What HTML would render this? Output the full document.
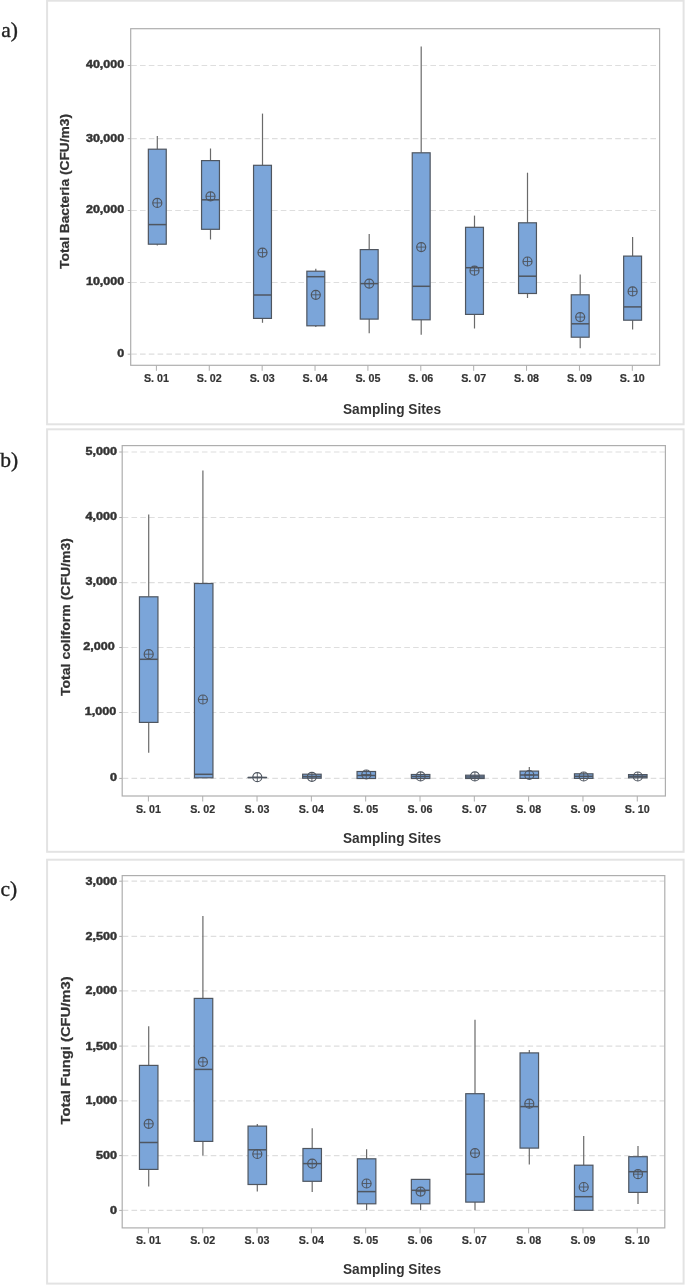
<!DOCTYPE html><html><head><meta charset="utf-8"><style>html,body{margin:0;padding:0;background:#fff;}svg{display:block;filter:blur(0.35px)}.s{font-family:"Liberation Sans",sans-serif}.r{font-family:"Liberation Serif",serif}</style></head><body>
<svg width="685" height="1285" viewBox="0 0 685 1285">
<rect x="0" y="0" width="685" height="1285" fill="#fff"/>
<rect x="47.1" y="0.7" width="636.5" height="423.6" fill="#fff" stroke="#e3e3e3" stroke-width="2"/>
<text x="1.3" y="36.6" class="r" font-size="21.5" fill="#222" stroke="#222" stroke-width="0.35">a)</text>
<line x1="131.2" y1="354.2" x2="659.1" y2="354.2" stroke="#dedede" stroke-width="1.2" stroke-dasharray="5.6 3.2"/>
<line x1="127.7" y1="354.2" x2="130.7" y2="354.2" stroke="#aeaeae" stroke-width="1"/>
<text x="124.2" y="357" text-anchor="end" class="s" font-weight="bold" font-size="10.6" fill="#333333" stroke="#333333" stroke-width="0.45" textLength="6.95" lengthAdjust="spacingAndGlyphs">0</text>
<line x1="131.2" y1="282.5" x2="659.1" y2="282.5" stroke="#dedede" stroke-width="1.2" stroke-dasharray="5.6 3.2"/>
<line x1="127.7" y1="282.5" x2="130.7" y2="282.5" stroke="#aeaeae" stroke-width="1"/>
<text x="124.2" y="285.3" text-anchor="end" class="s" font-weight="bold" font-size="10.6" fill="#333333" stroke="#333333" stroke-width="0.45" textLength="38.23" lengthAdjust="spacingAndGlyphs">10,000</text>
<line x1="131.2" y1="210.5" x2="659.1" y2="210.5" stroke="#dedede" stroke-width="1.2" stroke-dasharray="5.6 3.2"/>
<line x1="127.7" y1="210.5" x2="130.7" y2="210.5" stroke="#aeaeae" stroke-width="1"/>
<text x="124.2" y="213.3" text-anchor="end" class="s" font-weight="bold" font-size="10.6" fill="#333333" stroke="#333333" stroke-width="0.45" textLength="38.23" lengthAdjust="spacingAndGlyphs">20,000</text>
<line x1="131.2" y1="138.7" x2="659.1" y2="138.7" stroke="#dedede" stroke-width="1.2" stroke-dasharray="5.6 3.2"/>
<line x1="127.7" y1="138.7" x2="130.7" y2="138.7" stroke="#aeaeae" stroke-width="1"/>
<text x="124.2" y="141.5" text-anchor="end" class="s" font-weight="bold" font-size="10.6" fill="#333333" stroke="#333333" stroke-width="0.45" textLength="38.23" lengthAdjust="spacingAndGlyphs">30,000</text>
<line x1="131.2" y1="65.5" x2="659.1" y2="65.5" stroke="#dedede" stroke-width="1.2" stroke-dasharray="5.6 3.2"/>
<line x1="127.7" y1="65.5" x2="130.7" y2="65.5" stroke="#aeaeae" stroke-width="1"/>
<text x="124.2" y="68.3" text-anchor="end" class="s" font-weight="bold" font-size="10.6" fill="#333333" stroke="#333333" stroke-width="0.45" textLength="38.23" lengthAdjust="spacingAndGlyphs">40,000</text>
<rect x="130.7" y="28.7" width="528.9" height="336.6" fill="none" stroke="#aeaeae" stroke-width="1.2"/>
<line x1="156.4" y1="365.3" x2="156.4" y2="370.8" stroke="#aeaeae" stroke-width="1"/>
<text x="156.4" y="382.1" text-anchor="middle" class="s" font-weight="bold" font-size="11.7" fill="#333333" stroke="#333333" stroke-width="0.2" textLength="25" lengthAdjust="spacingAndGlyphs">S. 01</text>
<line x1="209.28" y1="365.3" x2="209.28" y2="370.8" stroke="#aeaeae" stroke-width="1"/>
<text x="209.28" y="382.1" text-anchor="middle" class="s" font-weight="bold" font-size="11.7" fill="#333333" stroke="#333333" stroke-width="0.2" textLength="25" lengthAdjust="spacingAndGlyphs">S. 02</text>
<line x1="262.16" y1="365.3" x2="262.16" y2="370.8" stroke="#aeaeae" stroke-width="1"/>
<text x="262.16" y="382.1" text-anchor="middle" class="s" font-weight="bold" font-size="11.7" fill="#333333" stroke="#333333" stroke-width="0.2" textLength="25" lengthAdjust="spacingAndGlyphs">S. 03</text>
<line x1="315.04" y1="365.3" x2="315.04" y2="370.8" stroke="#aeaeae" stroke-width="1"/>
<text x="315.04" y="382.1" text-anchor="middle" class="s" font-weight="bold" font-size="11.7" fill="#333333" stroke="#333333" stroke-width="0.2" textLength="25" lengthAdjust="spacingAndGlyphs">S. 04</text>
<line x1="367.92" y1="365.3" x2="367.92" y2="370.8" stroke="#aeaeae" stroke-width="1"/>
<text x="367.92" y="382.1" text-anchor="middle" class="s" font-weight="bold" font-size="11.7" fill="#333333" stroke="#333333" stroke-width="0.2" textLength="25" lengthAdjust="spacingAndGlyphs">S. 05</text>
<line x1="420.8" y1="365.3" x2="420.8" y2="370.8" stroke="#aeaeae" stroke-width="1"/>
<text x="420.8" y="382.1" text-anchor="middle" class="s" font-weight="bold" font-size="11.7" fill="#333333" stroke="#333333" stroke-width="0.2" textLength="25" lengthAdjust="spacingAndGlyphs">S. 06</text>
<line x1="473.68" y1="365.3" x2="473.68" y2="370.8" stroke="#aeaeae" stroke-width="1"/>
<text x="473.68" y="382.1" text-anchor="middle" class="s" font-weight="bold" font-size="11.7" fill="#333333" stroke="#333333" stroke-width="0.2" textLength="25" lengthAdjust="spacingAndGlyphs">S. 07</text>
<line x1="526.56" y1="365.3" x2="526.56" y2="370.8" stroke="#aeaeae" stroke-width="1"/>
<text x="526.56" y="382.1" text-anchor="middle" class="s" font-weight="bold" font-size="11.7" fill="#333333" stroke="#333333" stroke-width="0.2" textLength="25" lengthAdjust="spacingAndGlyphs">S. 08</text>
<line x1="579.44" y1="365.3" x2="579.44" y2="370.8" stroke="#aeaeae" stroke-width="1"/>
<text x="579.44" y="382.1" text-anchor="middle" class="s" font-weight="bold" font-size="11.7" fill="#333333" stroke="#333333" stroke-width="0.2" textLength="25" lengthAdjust="spacingAndGlyphs">S. 09</text>
<line x1="632.32" y1="365.3" x2="632.32" y2="370.8" stroke="#aeaeae" stroke-width="1"/>
<text x="632.32" y="382.1" text-anchor="middle" class="s" font-weight="bold" font-size="11.7" fill="#333333" stroke="#333333" stroke-width="0.2" textLength="25" lengthAdjust="spacingAndGlyphs">S. 10</text>
<text x="392" y="413.7" text-anchor="middle" class="s" font-weight="bold" font-size="13.8" fill="#333333" textLength="98" lengthAdjust="spacingAndGlyphs">Sampling Sites</text>
<text transform="translate(69,191.4) rotate(-90)" text-anchor="middle" class="s" font-weight="bold" font-size="13" fill="#333333" stroke="#333333" stroke-width="0.25" textLength="155" lengthAdjust="spacingAndGlyphs">Total Bacteria (CFU/m3)</text>
<line x1="157.3" y1="136" x2="157.3" y2="149.2" stroke="#6a6a6a" stroke-width="1.2"/>
<line x1="157.3" y1="244.2" x2="157.3" y2="245.6" stroke="#6a6a6a" stroke-width="1.2"/>
<rect x="148.35" y="149.2" width="17.9" height="95" fill="#7ba5d9" stroke="#4f5660" stroke-width="1.2"/>
<line x1="148.35" y1="224.6" x2="166.25" y2="224.6" stroke="#4f5660" stroke-width="1.5"/>
<circle cx="157.3" cy="202.9" r="4.5" fill="none" stroke="#4f5660" stroke-width="1.2"/>
<path d="M152.8 202.9H161.8M157.3 198.4V207.4" stroke="#4f5660" stroke-width="0.9" fill="none"/>
<line x1="210.5" y1="148.5" x2="210.5" y2="160.6" stroke="#6a6a6a" stroke-width="1.2"/>
<line x1="210.5" y1="229.3" x2="210.5" y2="239.5" stroke="#6a6a6a" stroke-width="1.2"/>
<rect x="201.55" y="160.6" width="17.9" height="68.7" fill="#7ba5d9" stroke="#4f5660" stroke-width="1.2"/>
<line x1="201.55" y1="199.8" x2="219.45" y2="199.8" stroke="#4f5660" stroke-width="1.5"/>
<circle cx="210.5" cy="196.3" r="4.5" fill="none" stroke="#4f5660" stroke-width="1.2"/>
<path d="M206 196.3H215M210.5 191.8V200.8" stroke="#4f5660" stroke-width="0.9" fill="none"/>
<line x1="262.5" y1="113.6" x2="262.5" y2="165.3" stroke="#6a6a6a" stroke-width="1.2"/>
<line x1="262.5" y1="318.4" x2="262.5" y2="322.8" stroke="#6a6a6a" stroke-width="1.2"/>
<rect x="253.55" y="165.3" width="17.9" height="153.1" fill="#7ba5d9" stroke="#4f5660" stroke-width="1.2"/>
<line x1="253.55" y1="295" x2="271.45" y2="295" stroke="#4f5660" stroke-width="1.5"/>
<circle cx="262.5" cy="252.6" r="4.5" fill="none" stroke="#4f5660" stroke-width="1.2"/>
<path d="M258 252.6H267M262.5 248.1V257.1" stroke="#4f5660" stroke-width="0.9" fill="none"/>
<line x1="315.8" y1="268.7" x2="315.8" y2="271.2" stroke="#6a6a6a" stroke-width="1.2"/>
<line x1="315.8" y1="325.8" x2="315.8" y2="327" stroke="#6a6a6a" stroke-width="1.2"/>
<rect x="306.85" y="271.2" width="17.9" height="54.6" fill="#7ba5d9" stroke="#4f5660" stroke-width="1.2"/>
<line x1="306.85" y1="276.7" x2="324.75" y2="276.7" stroke="#4f5660" stroke-width="1.5"/>
<circle cx="315.8" cy="294.8" r="4.5" fill="none" stroke="#4f5660" stroke-width="1.2"/>
<path d="M311.3 294.8H320.3M315.8 290.3V299.3" stroke="#4f5660" stroke-width="0.9" fill="none"/>
<line x1="369.2" y1="234" x2="369.2" y2="249.6" stroke="#6a6a6a" stroke-width="1.2"/>
<line x1="369.2" y1="319.1" x2="369.2" y2="333.3" stroke="#6a6a6a" stroke-width="1.2"/>
<rect x="360.25" y="249.6" width="17.9" height="69.5" fill="#7ba5d9" stroke="#4f5660" stroke-width="1.2"/>
<line x1="360.25" y1="283.6" x2="378.15" y2="283.6" stroke="#4f5660" stroke-width="1.5"/>
<circle cx="369.2" cy="283.6" r="4.5" fill="none" stroke="#4f5660" stroke-width="1.2"/>
<path d="M364.7 283.6H373.7M369.2 279.1V288.1" stroke="#4f5660" stroke-width="0.9" fill="none"/>
<line x1="421.2" y1="46.6" x2="421.2" y2="152.8" stroke="#6a6a6a" stroke-width="1.2"/>
<line x1="421.2" y1="319.8" x2="421.2" y2="334.7" stroke="#6a6a6a" stroke-width="1.2"/>
<rect x="412.25" y="152.8" width="17.9" height="167" fill="#7ba5d9" stroke="#4f5660" stroke-width="1.2"/>
<line x1="412.25" y1="286.3" x2="430.15" y2="286.3" stroke="#4f5660" stroke-width="1.5"/>
<circle cx="421.2" cy="247.1" r="4.5" fill="none" stroke="#4f5660" stroke-width="1.2"/>
<path d="M416.7 247.1H425.7M421.2 242.6V251.6" stroke="#4f5660" stroke-width="0.9" fill="none"/>
<line x1="474.5" y1="215.6" x2="474.5" y2="227.3" stroke="#6a6a6a" stroke-width="1.2"/>
<line x1="474.5" y1="314.4" x2="474.5" y2="328.5" stroke="#6a6a6a" stroke-width="1.2"/>
<rect x="465.55" y="227.3" width="17.9" height="87.1" fill="#7ba5d9" stroke="#4f5660" stroke-width="1.2"/>
<line x1="465.55" y1="267.7" x2="483.45" y2="267.7" stroke="#4f5660" stroke-width="1.5"/>
<circle cx="474.5" cy="270.7" r="4.5" fill="none" stroke="#4f5660" stroke-width="1.2"/>
<path d="M470 270.7H479M474.5 266.2V275.2" stroke="#4f5660" stroke-width="0.9" fill="none"/>
<line x1="527.5" y1="172.7" x2="527.5" y2="222.8" stroke="#6a6a6a" stroke-width="1.2"/>
<line x1="527.5" y1="293.5" x2="527.5" y2="298" stroke="#6a6a6a" stroke-width="1.2"/>
<rect x="518.55" y="222.8" width="17.9" height="70.7" fill="#7ba5d9" stroke="#4f5660" stroke-width="1.2"/>
<line x1="518.55" y1="276.2" x2="536.45" y2="276.2" stroke="#4f5660" stroke-width="1.5"/>
<circle cx="527.5" cy="261.5" r="4.5" fill="none" stroke="#4f5660" stroke-width="1.2"/>
<path d="M523 261.5H532M527.5 257V266" stroke="#4f5660" stroke-width="0.9" fill="none"/>
<line x1="580.2" y1="274.5" x2="580.2" y2="294.8" stroke="#6a6a6a" stroke-width="1.2"/>
<line x1="580.2" y1="337.2" x2="580.2" y2="348.2" stroke="#6a6a6a" stroke-width="1.2"/>
<rect x="571.25" y="294.8" width="17.9" height="42.4" fill="#7ba5d9" stroke="#4f5660" stroke-width="1.2"/>
<line x1="571.25" y1="323.8" x2="589.15" y2="323.8" stroke="#4f5660" stroke-width="1.5"/>
<circle cx="580.2" cy="317.1" r="4.5" fill="none" stroke="#4f5660" stroke-width="1.2"/>
<path d="M575.7 317.1H584.7M580.2 312.6V321.6" stroke="#4f5660" stroke-width="0.9" fill="none"/>
<line x1="632.6" y1="237" x2="632.6" y2="256.1" stroke="#6a6a6a" stroke-width="1.2"/>
<line x1="632.6" y1="320.2" x2="632.6" y2="329.6" stroke="#6a6a6a" stroke-width="1.2"/>
<rect x="623.65" y="256.1" width="17.9" height="64.1" fill="#7ba5d9" stroke="#4f5660" stroke-width="1.2"/>
<line x1="623.65" y1="306.9" x2="641.55" y2="306.9" stroke="#4f5660" stroke-width="1.5"/>
<circle cx="632.6" cy="291.4" r="4.5" fill="none" stroke="#4f5660" stroke-width="1.2"/>
<path d="M628.1 291.4H637.1M632.6 286.9V295.9" stroke="#4f5660" stroke-width="0.9" fill="none"/>
<rect x="47.1" y="429.3" width="636.5" height="422.5" fill="#fff" stroke="#e3e3e3" stroke-width="2"/>
<text x="0.3" y="466.7" class="r" font-size="21.5" fill="#222" stroke="#222" stroke-width="0.35">b)</text>
<line x1="122.7" y1="778.4" x2="664.9" y2="778.4" stroke="#dedede" stroke-width="1.2" stroke-dasharray="5.6 3.2"/>
<line x1="119.2" y1="778.4" x2="122.2" y2="778.4" stroke="#aeaeae" stroke-width="1"/>
<text x="117" y="781" text-anchor="end" class="s" font-weight="bold" font-size="10.6" fill="#333333" stroke="#333333" stroke-width="0.45" textLength="7.01" lengthAdjust="spacingAndGlyphs">0</text>
<line x1="122.7" y1="712.5" x2="664.9" y2="712.5" stroke="#dedede" stroke-width="1.2" stroke-dasharray="5.6 3.2"/>
<line x1="119.2" y1="712.5" x2="122.2" y2="712.5" stroke="#aeaeae" stroke-width="1"/>
<text x="116.3" y="715.1" text-anchor="end" class="s" font-weight="bold" font-size="10.6" fill="#333333" stroke="#333333" stroke-width="0.45" textLength="31.53" lengthAdjust="spacingAndGlyphs">1,000</text>
<line x1="122.7" y1="647.5" x2="664.9" y2="647.5" stroke="#dedede" stroke-width="1.2" stroke-dasharray="5.6 3.2"/>
<line x1="119.2" y1="647.5" x2="122.2" y2="647.5" stroke="#aeaeae" stroke-width="1"/>
<text x="114.8" y="650.1" text-anchor="end" class="s" font-weight="bold" font-size="10.6" fill="#333333" stroke="#333333" stroke-width="0.45" textLength="31.53" lengthAdjust="spacingAndGlyphs">2,000</text>
<line x1="122.7" y1="582.6" x2="664.9" y2="582.6" stroke="#dedede" stroke-width="1.2" stroke-dasharray="5.6 3.2"/>
<line x1="119.2" y1="582.6" x2="122.2" y2="582.6" stroke="#aeaeae" stroke-width="1"/>
<text x="117" y="585.2" text-anchor="end" class="s" font-weight="bold" font-size="10.6" fill="#333333" stroke="#333333" stroke-width="0.45" textLength="31.53" lengthAdjust="spacingAndGlyphs">3,000</text>
<line x1="122.7" y1="517.5" x2="664.9" y2="517.5" stroke="#dedede" stroke-width="1.2" stroke-dasharray="5.6 3.2"/>
<line x1="119.2" y1="517.5" x2="122.2" y2="517.5" stroke="#aeaeae" stroke-width="1"/>
<text x="117" y="520.1" text-anchor="end" class="s" font-weight="bold" font-size="10.6" fill="#333333" stroke="#333333" stroke-width="0.45" textLength="31.53" lengthAdjust="spacingAndGlyphs">4,000</text>
<line x1="122.7" y1="452" x2="664.9" y2="452" stroke="#dedede" stroke-width="1.2" stroke-dasharray="5.6 3.2"/>
<line x1="119.2" y1="452" x2="122.2" y2="452" stroke="#aeaeae" stroke-width="1"/>
<text x="117" y="454.6" text-anchor="end" class="s" font-weight="bold" font-size="10.6" fill="#333333" stroke="#333333" stroke-width="0.45" textLength="31.53" lengthAdjust="spacingAndGlyphs">5,000</text>
<rect x="122.2" y="445.6" width="543.2" height="350.4" fill="none" stroke="#aeaeae" stroke-width="1.2"/>
<line x1="148.4" y1="796" x2="148.4" y2="801.5" stroke="#aeaeae" stroke-width="1"/>
<text x="148.4" y="812.6" text-anchor="middle" class="s" font-weight="bold" font-size="11.7" fill="#333333" stroke="#333333" stroke-width="0.2" textLength="25" lengthAdjust="spacingAndGlyphs">S. 01</text>
<line x1="202.72" y1="796" x2="202.72" y2="801.5" stroke="#aeaeae" stroke-width="1"/>
<text x="202.72" y="812.6" text-anchor="middle" class="s" font-weight="bold" font-size="11.7" fill="#333333" stroke="#333333" stroke-width="0.2" textLength="25" lengthAdjust="spacingAndGlyphs">S. 02</text>
<line x1="257.04" y1="796" x2="257.04" y2="801.5" stroke="#aeaeae" stroke-width="1"/>
<text x="257.04" y="812.6" text-anchor="middle" class="s" font-weight="bold" font-size="11.7" fill="#333333" stroke="#333333" stroke-width="0.2" textLength="25" lengthAdjust="spacingAndGlyphs">S. 03</text>
<line x1="311.36" y1="796" x2="311.36" y2="801.5" stroke="#aeaeae" stroke-width="1"/>
<text x="311.36" y="812.6" text-anchor="middle" class="s" font-weight="bold" font-size="11.7" fill="#333333" stroke="#333333" stroke-width="0.2" textLength="25" lengthAdjust="spacingAndGlyphs">S. 04</text>
<line x1="365.68" y1="796" x2="365.68" y2="801.5" stroke="#aeaeae" stroke-width="1"/>
<text x="365.68" y="812.6" text-anchor="middle" class="s" font-weight="bold" font-size="11.7" fill="#333333" stroke="#333333" stroke-width="0.2" textLength="25" lengthAdjust="spacingAndGlyphs">S. 05</text>
<line x1="420" y1="796" x2="420" y2="801.5" stroke="#aeaeae" stroke-width="1"/>
<text x="420" y="812.6" text-anchor="middle" class="s" font-weight="bold" font-size="11.7" fill="#333333" stroke="#333333" stroke-width="0.2" textLength="25" lengthAdjust="spacingAndGlyphs">S. 06</text>
<line x1="474.32" y1="796" x2="474.32" y2="801.5" stroke="#aeaeae" stroke-width="1"/>
<text x="474.32" y="812.6" text-anchor="middle" class="s" font-weight="bold" font-size="11.7" fill="#333333" stroke="#333333" stroke-width="0.2" textLength="25" lengthAdjust="spacingAndGlyphs">S. 07</text>
<line x1="528.64" y1="796" x2="528.64" y2="801.5" stroke="#aeaeae" stroke-width="1"/>
<text x="528.64" y="812.6" text-anchor="middle" class="s" font-weight="bold" font-size="11.7" fill="#333333" stroke="#333333" stroke-width="0.2" textLength="25" lengthAdjust="spacingAndGlyphs">S. 08</text>
<line x1="582.96" y1="796" x2="582.96" y2="801.5" stroke="#aeaeae" stroke-width="1"/>
<text x="582.96" y="812.6" text-anchor="middle" class="s" font-weight="bold" font-size="11.7" fill="#333333" stroke="#333333" stroke-width="0.2" textLength="25" lengthAdjust="spacingAndGlyphs">S. 09</text>
<line x1="637.28" y1="796" x2="637.28" y2="801.5" stroke="#aeaeae" stroke-width="1"/>
<text x="637.28" y="812.6" text-anchor="middle" class="s" font-weight="bold" font-size="11.7" fill="#333333" stroke="#333333" stroke-width="0.2" textLength="25" lengthAdjust="spacingAndGlyphs">S. 10</text>
<text x="392" y="843" text-anchor="middle" class="s" font-weight="bold" font-size="13.8" fill="#333333" textLength="98" lengthAdjust="spacingAndGlyphs">Sampling Sites</text>
<text transform="translate(69.8,617) rotate(-90)" text-anchor="middle" class="s" font-weight="bold" font-size="13" fill="#333333" stroke="#333333" stroke-width="0.25" textLength="158" lengthAdjust="spacingAndGlyphs">Total coliform (CFU/m3)</text>
<line x1="148.7" y1="514.6" x2="148.7" y2="596.8" stroke="#6a6a6a" stroke-width="1.2"/>
<line x1="148.7" y1="722.4" x2="148.7" y2="752.8" stroke="#6a6a6a" stroke-width="1.2"/>
<rect x="139.45" y="596.8" width="18.5" height="125.6" fill="#7ba5d9" stroke="#4f5660" stroke-width="1.2"/>
<line x1="139.45" y1="659.3" x2="157.95" y2="659.3" stroke="#4f5660" stroke-width="1.5"/>
<circle cx="148.7" cy="654.2" r="4.5" fill="none" stroke="#4f5660" stroke-width="1.2"/>
<path d="M144.2 654.2H153.2M148.7 649.7V658.7" stroke="#4f5660" stroke-width="0.9" fill="none"/>
<line x1="202.9" y1="470.4" x2="202.9" y2="583.5" stroke="#6a6a6a" stroke-width="1.2"/>
<rect x="194.45" y="583.5" width="18.5" height="194.3" fill="#7ba5d9" stroke="#4f5660" stroke-width="1.2"/>
<line x1="194.45" y1="774.3" x2="212.95" y2="774.3" stroke="#4f5660" stroke-width="1.5"/>
<circle cx="202.9" cy="699.5" r="4.5" fill="none" stroke="#4f5660" stroke-width="1.2"/>
<path d="M198.4 699.5H207.4M202.9 695V704" stroke="#4f5660" stroke-width="0.9" fill="none"/>
<rect x="248.05" y="777.5" width="18.5" height="0.01" fill="#7ba5d9" stroke="#4f5660" stroke-width="1.2"/>
<line x1="248.05" y1="777.5" x2="266.55" y2="777.5" stroke="#4f5660" stroke-width="1.5"/>
<circle cx="257.3" cy="777.2" r="4.5" fill="none" stroke="#4f5660" stroke-width="1.2"/>
<path d="M252.8 777.2H261.8M257.3 772.7V781.7" stroke="#4f5660" stroke-width="0.9" fill="none"/>
<rect x="302.65" y="774.2" width="18.5" height="4" fill="#7ba5d9" stroke="#4f5660" stroke-width="1.2"/>
<line x1="302.65" y1="776.5" x2="321.15" y2="776.5" stroke="#4f5660" stroke-width="1.5"/>
<circle cx="311.9" cy="776.8" r="4.5" fill="none" stroke="#4f5660" stroke-width="1.2"/>
<path d="M307.4 776.8H316.4M311.9 772.3V781.3" stroke="#4f5660" stroke-width="0.9" fill="none"/>
<rect x="357.05" y="771.5" width="18.5" height="7" fill="#7ba5d9" stroke="#4f5660" stroke-width="1.2"/>
<line x1="357.05" y1="775.5" x2="375.55" y2="775.5" stroke="#4f5660" stroke-width="1.5"/>
<circle cx="366.3" cy="774.5" r="4.5" fill="none" stroke="#4f5660" stroke-width="1.2"/>
<path d="M361.8 774.5H370.8M366.3 770V779" stroke="#4f5660" stroke-width="0.9" fill="none"/>
<rect x="411.35" y="774.5" width="18.5" height="4" fill="#7ba5d9" stroke="#4f5660" stroke-width="1.2"/>
<line x1="411.35" y1="776.5" x2="429.85" y2="776.5" stroke="#4f5660" stroke-width="1.5"/>
<circle cx="420.6" cy="776.4" r="4.5" fill="none" stroke="#4f5660" stroke-width="1.2"/>
<path d="M416.1 776.4H425.1M420.6 771.9V780.9" stroke="#4f5660" stroke-width="0.9" fill="none"/>
<rect x="465.65" y="775.2" width="18.5" height="3.3" fill="#7ba5d9" stroke="#4f5660" stroke-width="1.2"/>
<line x1="465.65" y1="777" x2="484.15" y2="777" stroke="#4f5660" stroke-width="1.5"/>
<circle cx="474.9" cy="776.4" r="4.5" fill="none" stroke="#4f5660" stroke-width="1.2"/>
<path d="M470.4 776.4H479.4M474.9 771.9V780.9" stroke="#4f5660" stroke-width="0.9" fill="none"/>
<line x1="529.3" y1="767" x2="529.3" y2="771.1" stroke="#6a6a6a" stroke-width="1.2"/>
<rect x="520.05" y="771.1" width="18.5" height="7.3" fill="#7ba5d9" stroke="#4f5660" stroke-width="1.2"/>
<line x1="520.05" y1="775" x2="538.55" y2="775" stroke="#4f5660" stroke-width="1.5"/>
<circle cx="529.3" cy="775" r="4.5" fill="none" stroke="#4f5660" stroke-width="1.2"/>
<path d="M524.8 775H533.8M529.3 770.5V779.5" stroke="#4f5660" stroke-width="0.9" fill="none"/>
<rect x="574.45" y="773.8" width="18.5" height="4.6" fill="#7ba5d9" stroke="#4f5660" stroke-width="1.2"/>
<line x1="574.45" y1="776.3" x2="592.95" y2="776.3" stroke="#4f5660" stroke-width="1.5"/>
<circle cx="583.7" cy="776.5" r="4.5" fill="none" stroke="#4f5660" stroke-width="1.2"/>
<path d="M579.2 776.5H588.2M583.7 772V781" stroke="#4f5660" stroke-width="0.9" fill="none"/>
<rect x="628.55" y="774.6" width="18.5" height="3.2" fill="#7ba5d9" stroke="#4f5660" stroke-width="1.2"/>
<line x1="628.55" y1="776.3" x2="647.05" y2="776.3" stroke="#4f5660" stroke-width="1.5"/>
<circle cx="637.8" cy="776.5" r="4.5" fill="none" stroke="#4f5660" stroke-width="1.2"/>
<path d="M633.3 776.5H642.3M637.8 772V781" stroke="#4f5660" stroke-width="0.9" fill="none"/>
<rect x="47.1" y="859.7" width="636.5" height="423.9" fill="#fff" stroke="#e3e3e3" stroke-width="2"/>
<text x="0.5" y="896.2" class="r" font-size="21.5" fill="#222" stroke="#222" stroke-width="0.35">c)</text>
<line x1="122.7" y1="1210.4" x2="664.3" y2="1210.4" stroke="#dedede" stroke-width="1.2" stroke-dasharray="5.6 3.2"/>
<line x1="119.2" y1="1210.4" x2="122.2" y2="1210.4" stroke="#aeaeae" stroke-width="1"/>
<text x="117" y="1213.8" text-anchor="end" class="s" font-weight="bold" font-size="10.6" fill="#333333" stroke="#333333" stroke-width="0.45" textLength="7.01" lengthAdjust="spacingAndGlyphs">0</text>
<line x1="122.7" y1="1155.6" x2="664.3" y2="1155.6" stroke="#dedede" stroke-width="1.2" stroke-dasharray="5.6 3.2"/>
<line x1="119.2" y1="1155.6" x2="122.2" y2="1155.6" stroke="#aeaeae" stroke-width="1"/>
<text x="117" y="1159" text-anchor="end" class="s" font-weight="bold" font-size="10.6" fill="#333333" stroke="#333333" stroke-width="0.45" textLength="21.02" lengthAdjust="spacingAndGlyphs">500</text>
<line x1="122.7" y1="1100.8" x2="664.3" y2="1100.8" stroke="#dedede" stroke-width="1.2" stroke-dasharray="5.6 3.2"/>
<line x1="119.2" y1="1100.8" x2="122.2" y2="1100.8" stroke="#aeaeae" stroke-width="1"/>
<text x="117" y="1104.2" text-anchor="end" class="s" font-weight="bold" font-size="10.6" fill="#333333" stroke="#333333" stroke-width="0.45" textLength="31.53" lengthAdjust="spacingAndGlyphs">1,000</text>
<line x1="122.7" y1="1046.1" x2="664.3" y2="1046.1" stroke="#dedede" stroke-width="1.2" stroke-dasharray="5.6 3.2"/>
<line x1="119.2" y1="1046.1" x2="122.2" y2="1046.1" stroke="#aeaeae" stroke-width="1"/>
<text x="117" y="1049.5" text-anchor="end" class="s" font-weight="bold" font-size="10.6" fill="#333333" stroke="#333333" stroke-width="0.45" textLength="31.53" lengthAdjust="spacingAndGlyphs">1,500</text>
<line x1="122.7" y1="990.9" x2="664.3" y2="990.9" stroke="#dedede" stroke-width="1.2" stroke-dasharray="5.6 3.2"/>
<line x1="119.2" y1="990.9" x2="122.2" y2="990.9" stroke="#aeaeae" stroke-width="1"/>
<text x="117" y="994.3" text-anchor="end" class="s" font-weight="bold" font-size="10.6" fill="#333333" stroke="#333333" stroke-width="0.45" textLength="31.53" lengthAdjust="spacingAndGlyphs">2,000</text>
<line x1="122.7" y1="936.4" x2="664.3" y2="936.4" stroke="#dedede" stroke-width="1.2" stroke-dasharray="5.6 3.2"/>
<line x1="119.2" y1="936.4" x2="122.2" y2="936.4" stroke="#aeaeae" stroke-width="1"/>
<text x="117" y="939.8" text-anchor="end" class="s" font-weight="bold" font-size="10.6" fill="#333333" stroke="#333333" stroke-width="0.45" textLength="31.53" lengthAdjust="spacingAndGlyphs">2,500</text>
<line x1="122.7" y1="881.2" x2="664.3" y2="881.2" stroke="#dedede" stroke-width="1.2" stroke-dasharray="5.6 3.2"/>
<line x1="119.2" y1="881.2" x2="122.2" y2="881.2" stroke="#aeaeae" stroke-width="1"/>
<text x="117" y="884.6" text-anchor="end" class="s" font-weight="bold" font-size="10.6" fill="#333333" stroke="#333333" stroke-width="0.45" textLength="31.53" lengthAdjust="spacingAndGlyphs">3,000</text>
<rect x="122.2" y="875.6" width="542.6" height="352.3" fill="none" stroke="#aeaeae" stroke-width="1.2"/>
<line x1="148.4" y1="1227.9" x2="148.4" y2="1233.4" stroke="#aeaeae" stroke-width="1"/>
<text x="148.4" y="1244.2" text-anchor="middle" class="s" font-weight="bold" font-size="11.7" fill="#333333" stroke="#333333" stroke-width="0.2" textLength="25" lengthAdjust="spacingAndGlyphs">S. 01</text>
<line x1="202.72" y1="1227.9" x2="202.72" y2="1233.4" stroke="#aeaeae" stroke-width="1"/>
<text x="202.72" y="1244.2" text-anchor="middle" class="s" font-weight="bold" font-size="11.7" fill="#333333" stroke="#333333" stroke-width="0.2" textLength="25" lengthAdjust="spacingAndGlyphs">S. 02</text>
<line x1="257.04" y1="1227.9" x2="257.04" y2="1233.4" stroke="#aeaeae" stroke-width="1"/>
<text x="257.04" y="1244.2" text-anchor="middle" class="s" font-weight="bold" font-size="11.7" fill="#333333" stroke="#333333" stroke-width="0.2" textLength="25" lengthAdjust="spacingAndGlyphs">S. 03</text>
<line x1="311.36" y1="1227.9" x2="311.36" y2="1233.4" stroke="#aeaeae" stroke-width="1"/>
<text x="311.36" y="1244.2" text-anchor="middle" class="s" font-weight="bold" font-size="11.7" fill="#333333" stroke="#333333" stroke-width="0.2" textLength="25" lengthAdjust="spacingAndGlyphs">S. 04</text>
<line x1="365.68" y1="1227.9" x2="365.68" y2="1233.4" stroke="#aeaeae" stroke-width="1"/>
<text x="365.68" y="1244.2" text-anchor="middle" class="s" font-weight="bold" font-size="11.7" fill="#333333" stroke="#333333" stroke-width="0.2" textLength="25" lengthAdjust="spacingAndGlyphs">S. 05</text>
<line x1="420" y1="1227.9" x2="420" y2="1233.4" stroke="#aeaeae" stroke-width="1"/>
<text x="420" y="1244.2" text-anchor="middle" class="s" font-weight="bold" font-size="11.7" fill="#333333" stroke="#333333" stroke-width="0.2" textLength="25" lengthAdjust="spacingAndGlyphs">S. 06</text>
<line x1="474.32" y1="1227.9" x2="474.32" y2="1233.4" stroke="#aeaeae" stroke-width="1"/>
<text x="474.32" y="1244.2" text-anchor="middle" class="s" font-weight="bold" font-size="11.7" fill="#333333" stroke="#333333" stroke-width="0.2" textLength="25" lengthAdjust="spacingAndGlyphs">S. 07</text>
<line x1="528.64" y1="1227.9" x2="528.64" y2="1233.4" stroke="#aeaeae" stroke-width="1"/>
<text x="528.64" y="1244.2" text-anchor="middle" class="s" font-weight="bold" font-size="11.7" fill="#333333" stroke="#333333" stroke-width="0.2" textLength="25" lengthAdjust="spacingAndGlyphs">S. 08</text>
<line x1="582.96" y1="1227.9" x2="582.96" y2="1233.4" stroke="#aeaeae" stroke-width="1"/>
<text x="582.96" y="1244.2" text-anchor="middle" class="s" font-weight="bold" font-size="11.7" fill="#333333" stroke="#333333" stroke-width="0.2" textLength="25" lengthAdjust="spacingAndGlyphs">S. 09</text>
<line x1="637.28" y1="1227.9" x2="637.28" y2="1233.4" stroke="#aeaeae" stroke-width="1"/>
<text x="637.28" y="1244.2" text-anchor="middle" class="s" font-weight="bold" font-size="11.7" fill="#333333" stroke="#333333" stroke-width="0.2" textLength="25" lengthAdjust="spacingAndGlyphs">S. 10</text>
<text x="392" y="1274.4" text-anchor="middle" class="s" font-weight="bold" font-size="13.8" fill="#333333" textLength="98" lengthAdjust="spacingAndGlyphs">Sampling Sites</text>
<text transform="translate(69.8,1050.4) rotate(-90)" text-anchor="middle" class="s" font-weight="bold" font-size="13" fill="#333333" stroke="#333333" stroke-width="0.25" textLength="148" lengthAdjust="spacingAndGlyphs">Total Fungi (CFU/m3)</text>
<line x1="148.7" y1="1026.2" x2="148.7" y2="1065.4" stroke="#6a6a6a" stroke-width="1.2"/>
<line x1="148.7" y1="1169.4" x2="148.7" y2="1186.4" stroke="#6a6a6a" stroke-width="1.2"/>
<rect x="139.45" y="1065.4" width="18.5" height="104" fill="#7ba5d9" stroke="#4f5660" stroke-width="1.2"/>
<line x1="139.45" y1="1142.5" x2="157.95" y2="1142.5" stroke="#4f5660" stroke-width="1.5"/>
<circle cx="148.7" cy="1123.8" r="4.5" fill="none" stroke="#4f5660" stroke-width="1.2"/>
<path d="M144.2 1123.8H153.2M148.7 1119.3V1128.3" stroke="#4f5660" stroke-width="0.9" fill="none"/>
<line x1="202.9" y1="915.9" x2="202.9" y2="998.4" stroke="#6a6a6a" stroke-width="1.2"/>
<line x1="202.9" y1="1141.4" x2="202.9" y2="1155.4" stroke="#6a6a6a" stroke-width="1.2"/>
<rect x="194.25" y="998.4" width="18.5" height="143" fill="#7ba5d9" stroke="#4f5660" stroke-width="1.2"/>
<line x1="194.25" y1="1069.4" x2="212.75" y2="1069.4" stroke="#4f5660" stroke-width="1.5"/>
<circle cx="202.9" cy="1061.9" r="4.5" fill="none" stroke="#4f5660" stroke-width="1.2"/>
<path d="M198.4 1061.9H207.4M202.9 1057.4V1066.4" stroke="#4f5660" stroke-width="0.9" fill="none"/>
<line x1="257.3" y1="1124.1" x2="257.3" y2="1126.1" stroke="#6a6a6a" stroke-width="1.2"/>
<line x1="257.3" y1="1184.5" x2="257.3" y2="1191.6" stroke="#6a6a6a" stroke-width="1.2"/>
<rect x="248.05" y="1126.1" width="18.5" height="58.4" fill="#7ba5d9" stroke="#4f5660" stroke-width="1.2"/>
<line x1="248.05" y1="1149.8" x2="266.55" y2="1149.8" stroke="#4f5660" stroke-width="1.5"/>
<circle cx="257.3" cy="1154" r="4.5" fill="none" stroke="#4f5660" stroke-width="1.2"/>
<path d="M252.8 1154H261.8M257.3 1149.5V1158.5" stroke="#4f5660" stroke-width="0.9" fill="none"/>
<line x1="312.2" y1="1128.3" x2="312.2" y2="1148.5" stroke="#6a6a6a" stroke-width="1.2"/>
<line x1="312.2" y1="1181.3" x2="312.2" y2="1191.9" stroke="#6a6a6a" stroke-width="1.2"/>
<rect x="302.95" y="1148.5" width="18.5" height="32.8" fill="#7ba5d9" stroke="#4f5660" stroke-width="1.2"/>
<line x1="302.95" y1="1163.6" x2="321.45" y2="1163.6" stroke="#4f5660" stroke-width="1.5"/>
<circle cx="312.2" cy="1163.6" r="4.5" fill="none" stroke="#4f5660" stroke-width="1.2"/>
<path d="M307.7 1163.6H316.7M312.2 1159.1V1168.1" stroke="#4f5660" stroke-width="0.9" fill="none"/>
<line x1="366.6" y1="1149.2" x2="366.6" y2="1158.8" stroke="#6a6a6a" stroke-width="1.2"/>
<line x1="366.6" y1="1203.8" x2="366.6" y2="1210.2" stroke="#6a6a6a" stroke-width="1.2"/>
<rect x="357.35" y="1158.8" width="18.5" height="45" fill="#7ba5d9" stroke="#4f5660" stroke-width="1.2"/>
<line x1="357.35" y1="1191.6" x2="375.85" y2="1191.6" stroke="#4f5660" stroke-width="1.5"/>
<circle cx="366.6" cy="1183.5" r="4.5" fill="none" stroke="#4f5660" stroke-width="1.2"/>
<path d="M362.1 1183.5H371.1M366.6 1179V1188" stroke="#4f5660" stroke-width="0.9" fill="none"/>
<line x1="420.6" y1="1203.8" x2="420.6" y2="1210.2" stroke="#6a6a6a" stroke-width="1.2"/>
<rect x="411.35" y="1179.4" width="18.5" height="24.4" fill="#7ba5d9" stroke="#4f5660" stroke-width="1.2"/>
<line x1="411.35" y1="1190.3" x2="429.85" y2="1190.3" stroke="#4f5660" stroke-width="1.5"/>
<circle cx="420.6" cy="1191.6" r="4.5" fill="none" stroke="#4f5660" stroke-width="1.2"/>
<path d="M416.1 1191.6H425.1M420.6 1187.1V1196.1" stroke="#4f5660" stroke-width="0.9" fill="none"/>
<line x1="475" y1="1019.7" x2="475" y2="1093.7" stroke="#6a6a6a" stroke-width="1.2"/>
<line x1="475" y1="1202.1" x2="475" y2="1210.3" stroke="#6a6a6a" stroke-width="1.2"/>
<rect x="465.75" y="1093.7" width="18.5" height="108.4" fill="#7ba5d9" stroke="#4f5660" stroke-width="1.2"/>
<line x1="465.75" y1="1174.2" x2="484.25" y2="1174.2" stroke="#4f5660" stroke-width="1.5"/>
<circle cx="475" cy="1153.1" r="4.5" fill="none" stroke="#4f5660" stroke-width="1.2"/>
<path d="M470.5 1153.1H479.5M475 1148.6V1157.6" stroke="#4f5660" stroke-width="0.9" fill="none"/>
<line x1="529.3" y1="1050" x2="529.3" y2="1052.9" stroke="#6a6a6a" stroke-width="1.2"/>
<line x1="529.3" y1="1148.1" x2="529.3" y2="1164.5" stroke="#6a6a6a" stroke-width="1.2"/>
<rect x="520.05" y="1052.9" width="18.5" height="95.2" fill="#7ba5d9" stroke="#4f5660" stroke-width="1.2"/>
<line x1="520.05" y1="1106.6" x2="538.55" y2="1106.6" stroke="#4f5660" stroke-width="1.5"/>
<circle cx="529.3" cy="1103.7" r="4.5" fill="none" stroke="#4f5660" stroke-width="1.2"/>
<path d="M524.8 1103.7H533.8M529.3 1099.2V1108.2" stroke="#4f5660" stroke-width="0.9" fill="none"/>
<line x1="583.7" y1="1135.9" x2="583.7" y2="1165.2" stroke="#6a6a6a" stroke-width="1.2"/>
<rect x="574.45" y="1165.2" width="18.5" height="45.1" fill="#7ba5d9" stroke="#4f5660" stroke-width="1.2"/>
<line x1="574.45" y1="1196.7" x2="592.95" y2="1196.7" stroke="#4f5660" stroke-width="1.5"/>
<circle cx="583.7" cy="1187" r="4.5" fill="none" stroke="#4f5660" stroke-width="1.2"/>
<path d="M579.2 1187H588.2M583.7 1182.5V1191.5" stroke="#4f5660" stroke-width="0.9" fill="none"/>
<line x1="638" y1="1145.9" x2="638" y2="1156.7" stroke="#6a6a6a" stroke-width="1.2"/>
<line x1="638" y1="1192.4" x2="638" y2="1203.9" stroke="#6a6a6a" stroke-width="1.2"/>
<rect x="628.75" y="1156.7" width="18.5" height="35.7" fill="#7ba5d9" stroke="#4f5660" stroke-width="1.2"/>
<line x1="628.75" y1="1171.7" x2="647.25" y2="1171.7" stroke="#4f5660" stroke-width="1.5"/>
<circle cx="638" cy="1174.2" r="4.5" fill="none" stroke="#4f5660" stroke-width="1.2"/>
<path d="M633.5 1174.2H642.5M638 1169.7V1178.7" stroke="#4f5660" stroke-width="0.9" fill="none"/>
</svg></body></html>
